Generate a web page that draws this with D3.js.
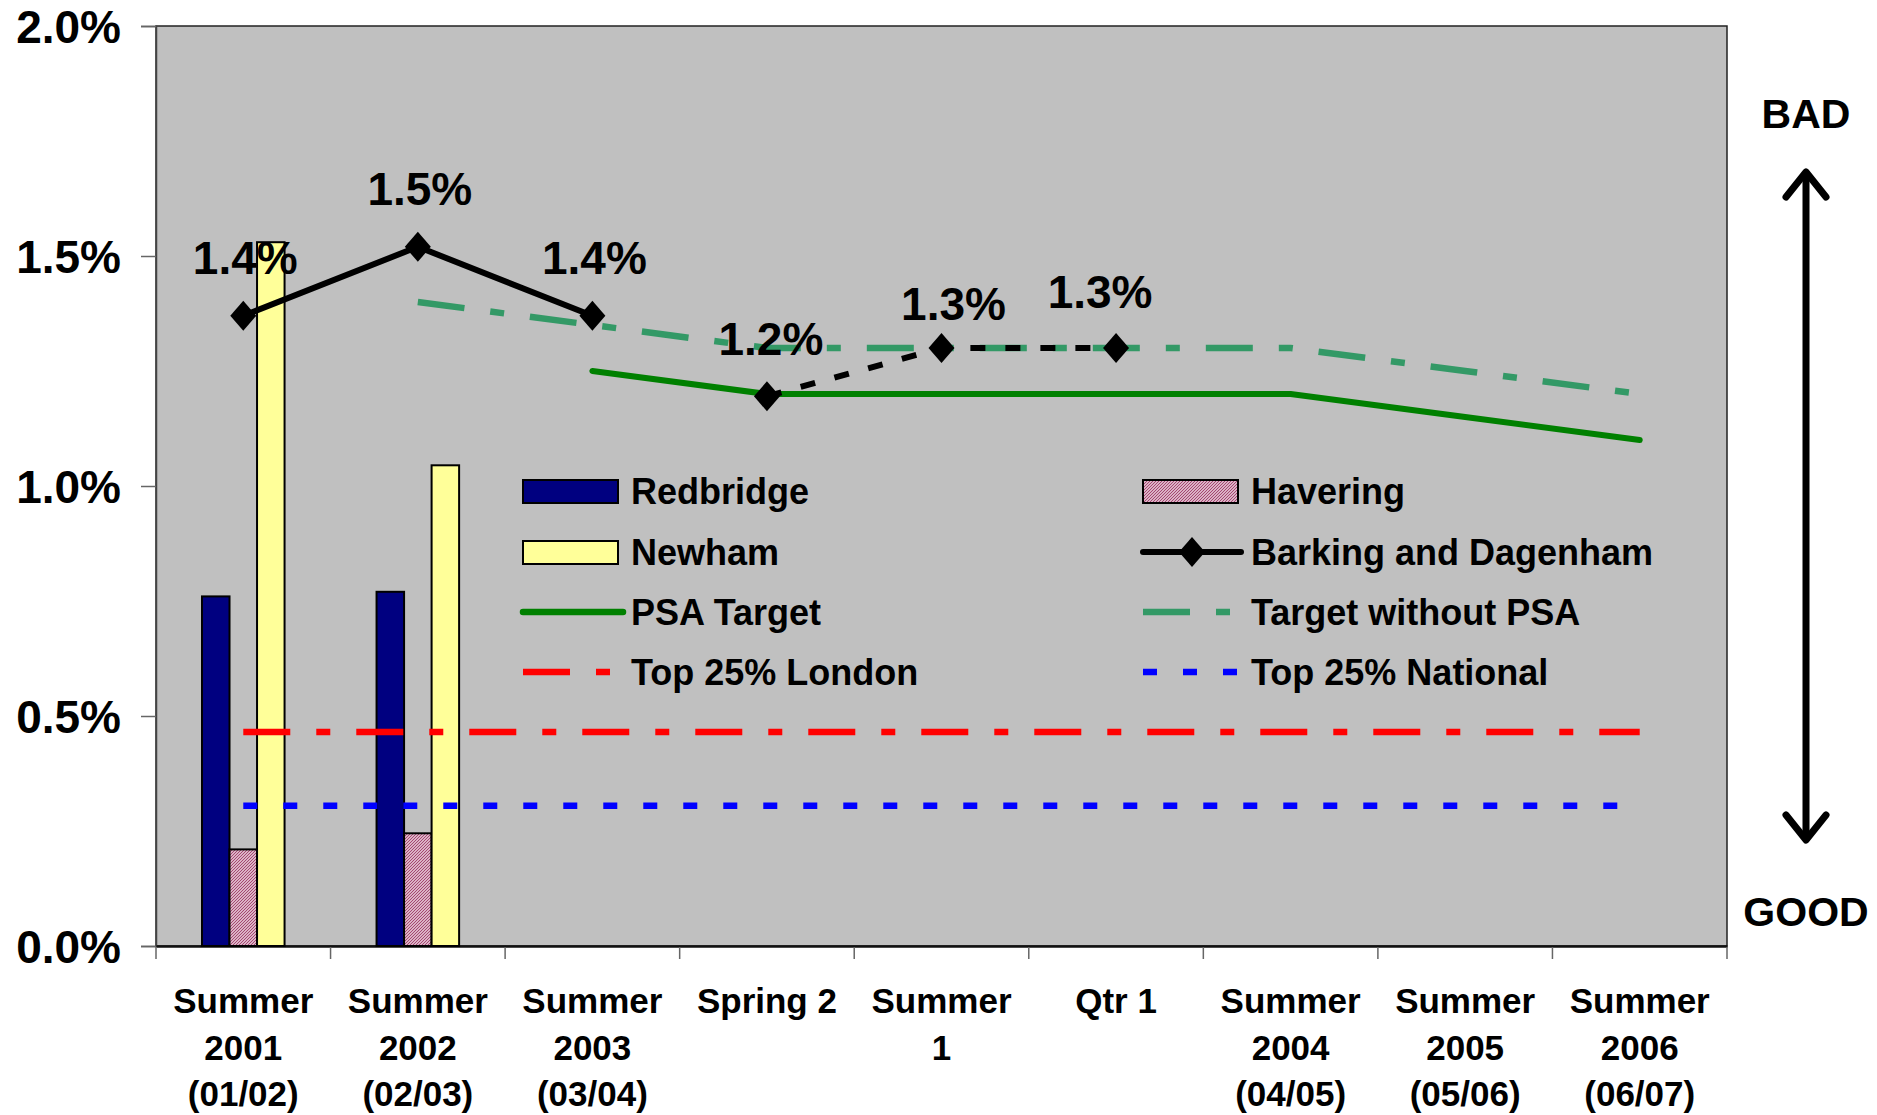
<!DOCTYPE html>
<html>
<head>
<meta charset="utf-8">
<script src="https://cdn.jsdelivr.net/npm/d3@7"></script>
<style>
  body { margin: 0; background: #fff; }
  svg text { font-family: "Liberation Sans", Arial, sans-serif; font-weight: bold; fill: #000; }
</style>
</head>
<body>
<svg width="1877" height="1115"></svg>
<script>
var svg = d3.select('svg');

// categories (x axis), each label split in lines
var categories = ['Summer 2001', 'Summer 2002', 'Summer 2003', 'Spring 2', 'Summer 1', 'Qtr 1', 'Summer 2004', 'Summer 2005', 'Summer 2006'];
var categoryLines = [
  ['Summer', '2001', '(01/02)'], ['Summer', '2002', '(02/03)'], ['Summer', '2003', '(03/04)'],
  ['Spring 2'], ['Summer', '1'], ['Qtr 1'],
  ['Summer', '2004', '(04/05)'], ['Summer', '2005', '(05/06)'], ['Summer', '2006', '(06/07)']
];

// bar series (only first two years)
var barCategories = ['Summer 2001', 'Summer 2002'];
var redbridge = [0.76, 0.77];
var havering = [0.21, 0.245];
var newham = [1.53, 1.045];

// Barking and Dagenham: solid part and dotted part
var barkingSolid = [['Summer 2001', 1.37], ['Summer 2002', 1.52], ['Summer 2003', 1.37]];
var barkingDotted = [['Spring 2', 1.195], ['Summer 1', 1.3], ['Qtr 1', 1.3]];
var barkingLabels = ['1.4%', '1.5%', '1.4%', '1.2%', '1.3%', '1.3%'];

var psaTarget = [['Summer 2003', 1.25], ['Spring 2', 1.2], ['Summer 1', 1.2], ['Qtr 1', 1.2], ['Summer 2004', 1.2], ['Summer 2005', 1.15], ['Summer 2006', 1.1]];
var targetWithoutPsa = [['Summer 2002', 1.4], ['Summer 2003', 1.35], ['Spring 2', 1.3], ['Summer 1', 1.3], ['Qtr 1', 1.3], ['Summer 2004', 1.3], ['Summer 2005', 1.25], ['Summer 2006', 1.2]];
var top25London = 0.465;
var top25National = 0.305;

var yTicks = [0, 0.5, 1.0, 1.5, 2.0];

// layout
var margin = {top: 26, left: 156};
var innerWidth = 1727 - margin.left;
var innerHeight = 946 - margin.top;

var xScale = d3.scaleBand().domain(categories).range([0, innerWidth]).padding(0);
var yScale = d3.scaleLinear().domain([0, 2]).range([innerHeight, 0]);
var xc = c => xScale(c) + xScale.bandwidth() / 2;

var defs = svg.append('defs');
var pat = defs.append('pattern').attr('id', 'hatch')
  .attr('patternUnits', 'userSpaceOnUse').attr('width', 3).attr('height', 3);
pat.append('rect').attr('width', 3).attr('height', 3).attr('fill', '#f4e0ea');
pat.append('path').attr('d', 'M0,3 L3,0 M-1,1 L1,-1 M2,4 L4,2')
  .attr('stroke', '#a0406a').attr('stroke-width', 1.1);

var g = svg.append('g').attr('transform', 'translate(' + margin.left + ',' + margin.top + ')');

// plot area
g.append('rect').attr('width', innerWidth).attr('height', innerHeight)
  .attr('fill', '#c0c0c0').attr('stroke', '#222').attr('stroke-width', 1.5);

// y axis
var yAxis = d3.axisLeft(yScale).tickValues(yTicks).tickSize(15).tickPadding(20)
  .tickFormat(d => d.toFixed(1) + '%');
var ya = g.append('g').call(yAxis);
ya.select('.domain').attr('stroke', '#444').attr('stroke-width', 1.5);
ya.selectAll('.tick line').attr('stroke', '#666').attr('stroke-width', 1.5);
ya.selectAll('.tick text').style('font-size', '46px').attr('dy', '0.36em');

// x axis
var xAxis = d3.axisBottom(xScale).tickSize(0).tickFormat('');
var xa = g.append('g').attr('transform', 'translate(0,' + innerHeight + ')').call(xAxis);
xa.select('.domain').attr('stroke', '#111').attr('stroke-width', 2.5);
g.append('g').selectAll('line').data(d3.range(categories.length + 1)).enter().append('line')
  .attr('x1', i => i * xScale.bandwidth()).attr('x2', i => i * xScale.bandwidth())
  .attr('y1', innerHeight + 1).attr('y2', innerHeight + 13)
  .attr('stroke', '#666').attr('stroke-width', 1.5);

var xl = g.append('g').selectAll('g').data(categories).enter().append('g');
xl.each(function(d, i) {
  d3.select(this).selectAll('text').data(categoryLines[i]).enter().append('text')
    .attr('text-anchor', 'middle').attr('x', xc(d))
    .attr('y', (t, j) => innerHeight + 67 + j * 46.5)
    .style('font-size', '35px').text(t => t);
});

// bars
var groupWidth = xScale.bandwidth() * 0.473;
var sub = d3.scaleBand().domain(['Redbridge', 'Havering', 'Newham']).range([0, groupWidth]);
var barSeries = [
  {name: 'Redbridge', values: redbridge, fill: '#000080'},
  {name: 'Havering', values: havering, fill: 'url(#hatch)'},
  {name: 'Newham', values: newham, fill: '#ffff99'}
];
var groupOffset = (xScale.bandwidth() - groupWidth) / 2;
barSeries.forEach(s => {
  g.append('g').selectAll('rect').data(s.values).enter().append('rect')
    .attr('x', (d, i) => xScale(barCategories[i]) + groupOffset + sub(s.name))
    .attr('y', d => yScale(d))
    .attr('width', sub.bandwidth())
    .attr('height', d => innerHeight - yScale(d))
    .attr('fill', s.fill).attr('stroke', '#000').attr('stroke-width', 2);
});

// reference lines
var line = d3.line().x(d => xc(d[0])).y(d => yScale(d[1]));
g.append('line').attr('x1', xc(categories[0])).attr('x2', xc(categories[8]))
  .attr('y1', yScale(top25London)).attr('y2', yScale(top25London))
  .attr('stroke', '#ff0000').attr('stroke-width', 6.5).attr('stroke-dasharray', '47,26,14,26');
g.append('line').attr('x1', xc(categories[0])).attr('x2', xc(categories[8]) - 10)
  .attr('y1', yScale(top25National)).attr('y2', yScale(top25National))
  .attr('stroke', '#0000ff').attr('stroke-width', 6.5).attr('stroke-dasharray', '14,26');

// targets
g.append('path').datum(targetWithoutPsa).attr('d', line).attr('fill', 'none')
  .attr('stroke', '#339966').attr('stroke-width', 6.5).attr('stroke-dasharray', '47,26,14,26');
g.append('path').datum(psaTarget).attr('d', line).attr('fill', 'none')
  .attr('stroke', '#008000').attr('stroke-width', 6).attr('stroke-linecap', 'round').attr('stroke-linejoin', 'round');

// Barking and Dagenham
g.append('path').datum(barkingSolid).attr('d', line).attr('fill', 'none')
  .attr('stroke', '#000').attr('stroke-width', 6).attr('stroke-linejoin', 'round');
g.append('path').datum(barkingDotted).attr('d', line).attr('fill', 'none')
  .attr('stroke', '#000').attr('stroke-width', 6).attr('stroke-dasharray', '15,20');
var barkingAll = barkingSolid.concat(barkingDotted);
var diamond = 'M0,-15 L13,0 L0,15 L-13,0 Z';
g.append('g').selectAll('path').data(barkingAll).enter().append('path')
  .attr('d', diamond).attr('transform', d => 'translate(' + xc(d[0]) + ',' + yScale(d[1]) + ')')
  .attr('fill', '#000');

// data labels (manually placed in the original)
var labelOffsets = [[2, -42], [2, -42], [2, -42], [4, -41], [12, -28], [-16, -40]];
g.append('g').selectAll('text').data(barkingAll).enter().append('text')
  .attr('x', (d, i) => xc(d[0]) + labelOffsets[i][0])
  .attr('y', (d, i) => yScale(d[1]) + labelOffsets[i][1])
  .attr('text-anchor', 'middle').style('font-size', '46px')
  .text((d, i) => barkingLabels[i]);

// legend
var legendItems = [
  {name: 'Redbridge', type: 'rect', fill: '#000080'},
  {name: 'Havering', type: 'rect', fill: 'url(#hatch)'},
  {name: 'Newham', type: 'rect', fill: '#ffff99'},
  {name: 'Barking and Dagenham', type: 'marker', color: '#000'},
  {name: 'PSA Target', type: 'line', color: '#008000', dash: null},
  {name: 'Target without PSA', type: 'line', color: '#339966', dash: '47,26,14,26'},
  {name: 'Top 25% London', type: 'line', color: '#ff0000', dash: '47,26,14,26'},
  {name: 'Top 25% National', type: 'line', color: '#0000ff', dash: '14,26'}
];
var legendX = [523, 1143];
var legendY = [491, 552, 612, 672];
var lg = svg.append('g').selectAll('g').data(legendItems).enter().append('g')
  .attr('transform', (d, i) => 'translate(' + legendX[i % 2] + ',' + legendY[Math.floor(i / 2)] + ')');
lg.each(function(d) {
  var s = d3.select(this);
  if (d.type === 'rect') {
    s.append('rect').attr('x', 0).attr('y', -11).attr('width', 95).attr('height', 23)
      .attr('fill', d.fill).attr('stroke', '#000').attr('stroke-width', 2);
  } else if (d.type === 'marker') {
    s.append('line').attr('x1', 0).attr('x2', 98).attr('y1', 0).attr('y2', 0)
      .attr('stroke', d.color).attr('stroke-width', 6).attr('stroke-linecap', 'round');
    s.append('path').attr('d', diamond).attr('transform', 'translate(49,0)').attr('fill', '#000');
  } else {
    var ln = s.append('line').attr('x1', 0).attr('x2', d.dash ? 95 : 100).attr('y1', 0).attr('y2', 0)
      .attr('stroke', d.color).attr('stroke-width', 6.5);
    if (d.dash) ln.attr('stroke-dasharray', d.dash);
    else ln.attr('stroke-linecap', 'round');
  }
  s.append('text').attr('x', 108).attr('y', 13)
    .style('font-size', '36px').text(d.name);
});

// BAD / GOOD arrow
var ann = svg.append('g');
ann.append('text').attr('x', 1806).attr('y', 128).attr('text-anchor', 'middle')
  .style('font-size', '41px').text('BAD');
ann.append('text').attr('x', 1806).attr('y', 926).attr('text-anchor', 'middle')
  .style('font-size', '41px').text('GOOD');
ann.append('line').attr('x1', 1806).attr('x2', 1806).attr('y1', 174).attr('y2', 838)
  .attr('stroke', '#000').attr('stroke-width', 7);
ann.append('path').attr('d', 'M1786,197 L1806,172 L1826,197 M1786,815 L1806,840 L1826,815')
  .attr('fill', 'none').attr('stroke', '#000').attr('stroke-width', 7)
  .attr('stroke-linecap', 'round').attr('stroke-linejoin', 'round');
</script>
</body>
</html>
